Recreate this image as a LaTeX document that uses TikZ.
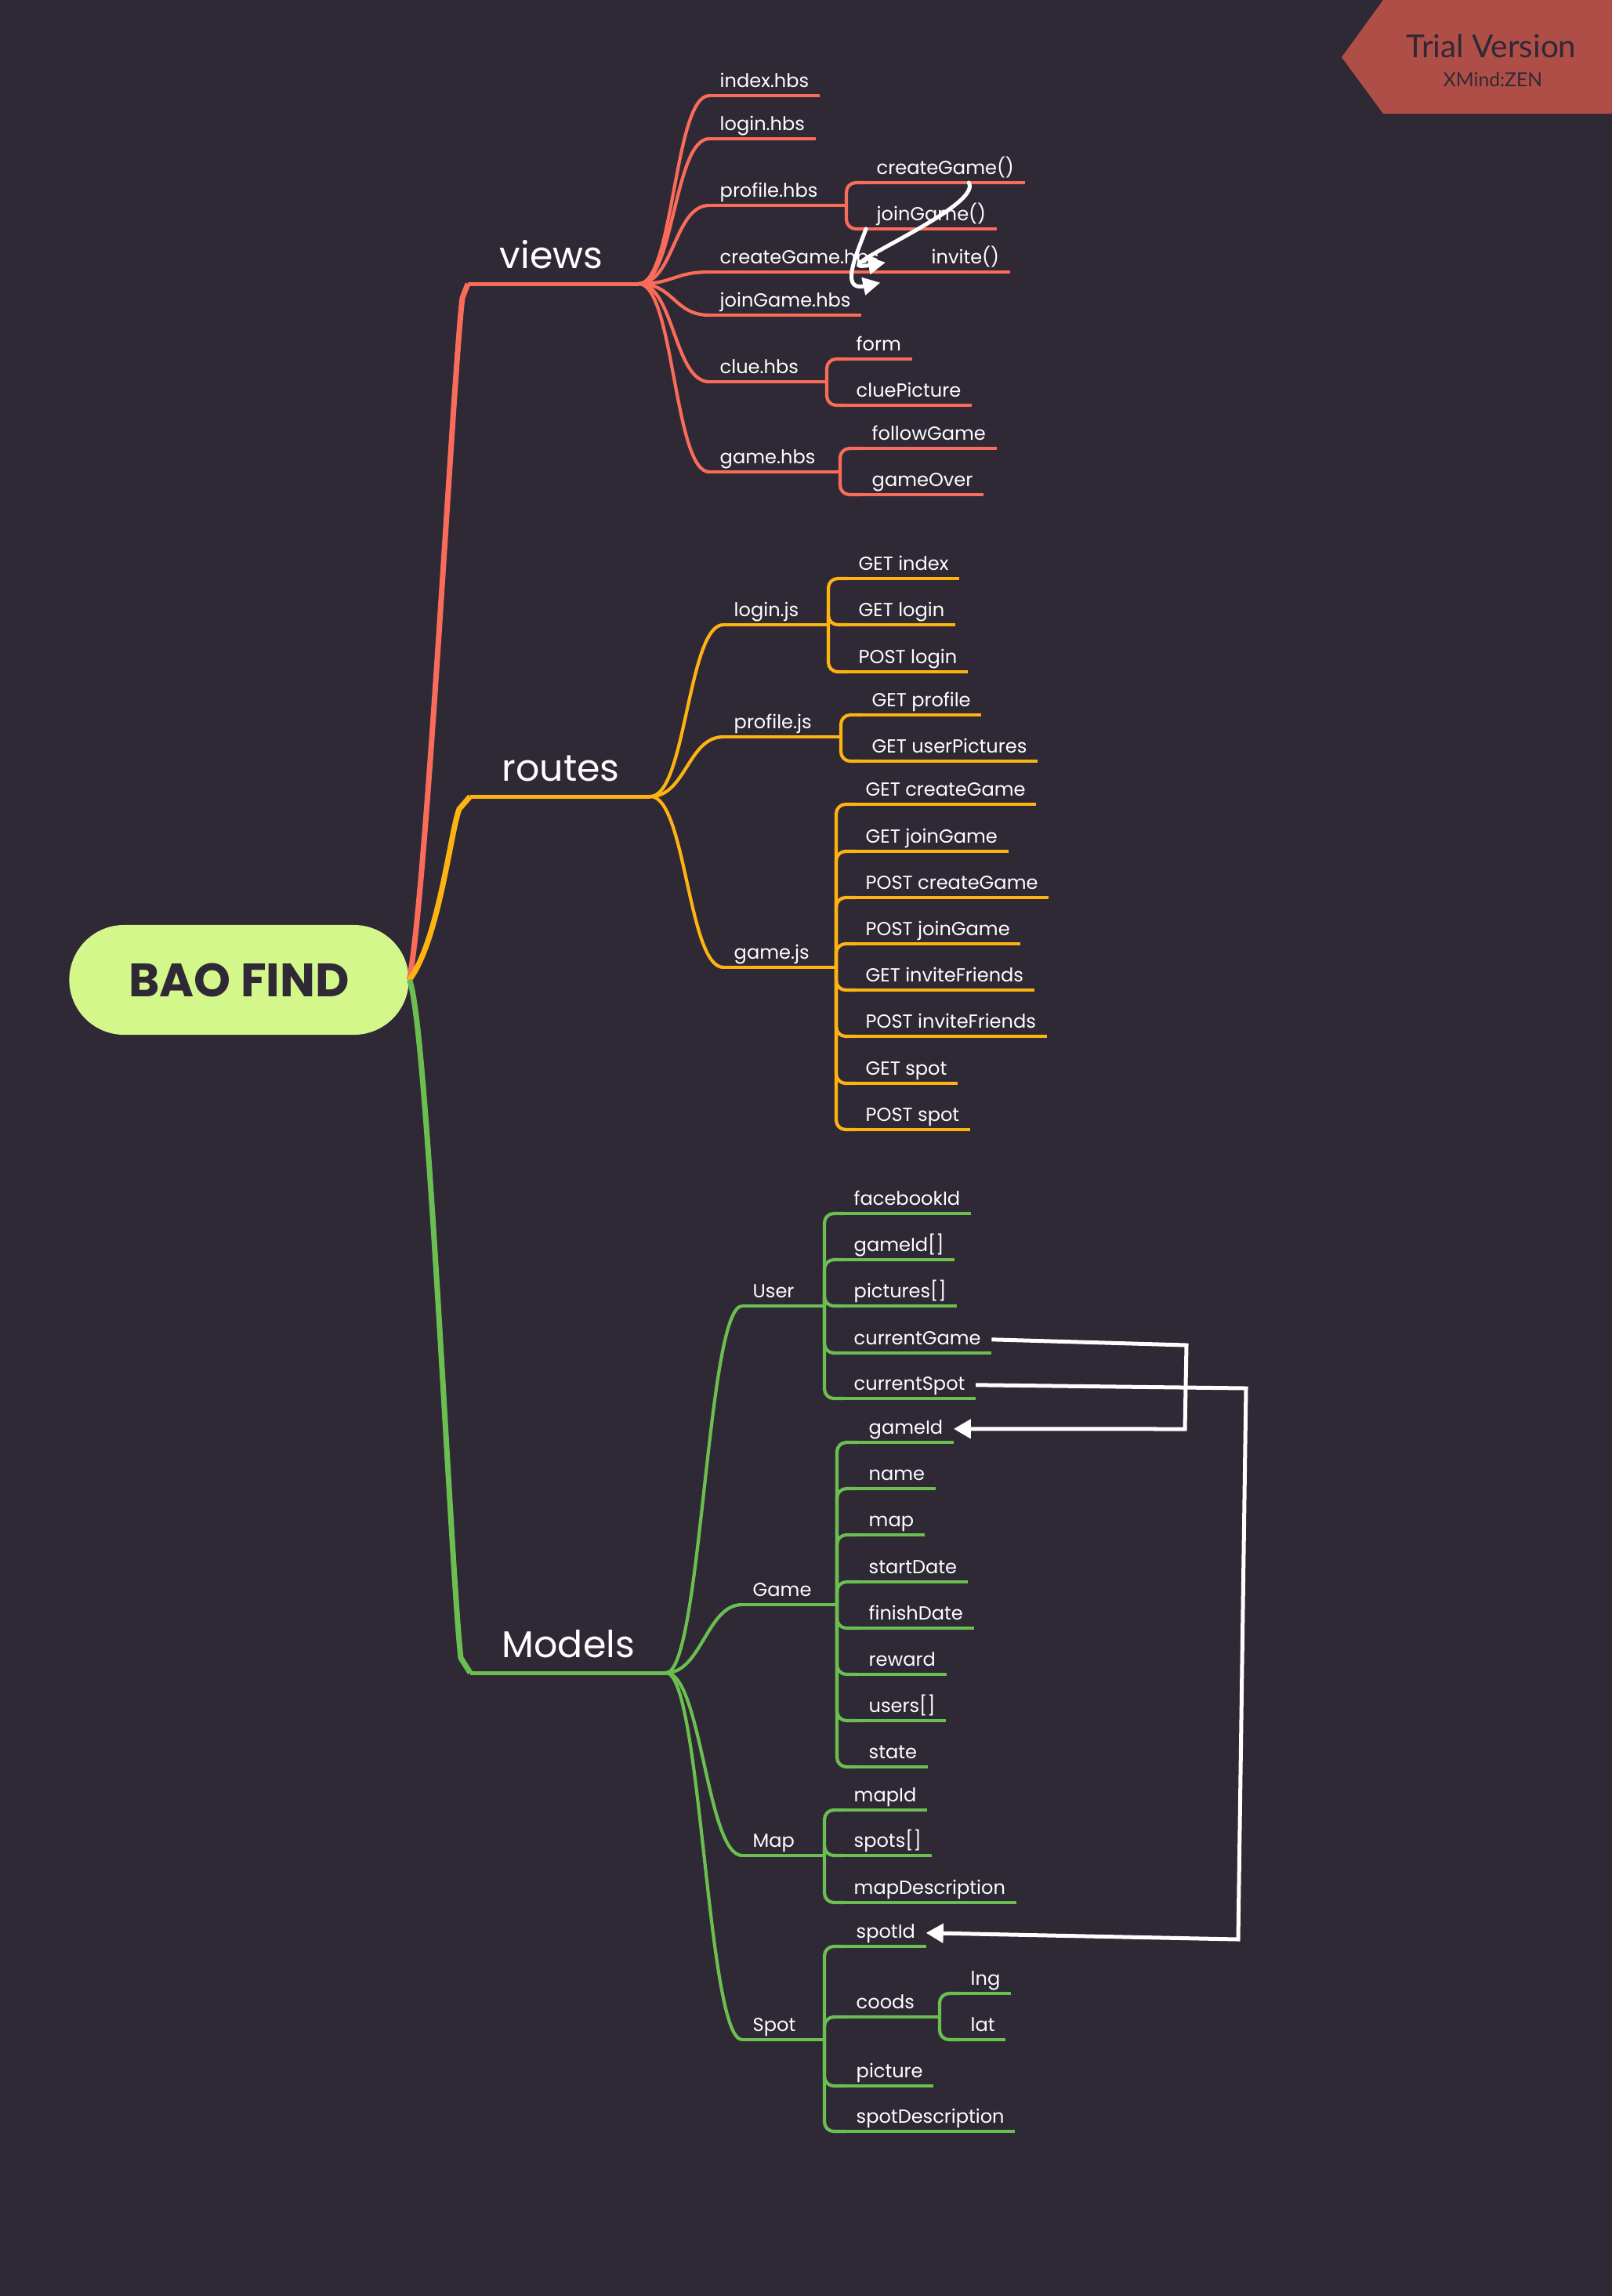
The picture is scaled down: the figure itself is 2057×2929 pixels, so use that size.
\documentclass[tikz,border=0pt]{standalone}
\usepackage{fontspec}
\setmainfont{Poppins}
\newfontfamily\trialfont{Lato}
\usetikzlibrary{arrows.meta}

\definecolor{bgdark}{HTML}{2F2935}
\definecolor{viewc}{HTML}{FA6C5A}
\definecolor{routec}{HTML}{FDB311}
\definecolor{modelc}{HTML}{6BBF51}
\definecolor{rootc}{HTML}{D4F78B}
\definecolor{trialc}{HTML}{AE4E46}

\begin{document}
\begin{tikzpicture}[
  x=0.01cm, y=-0.01cm,
  root/.style={fill=rootc, rounded corners=0.7cm, minimum width=4.33cm,
               minimum height=1.4cm, text=bgdark,
               font=\fontsize{17}{20}\selectfont\bfseries},
  topic/.style={anchor=south west, text=white, inner xsep=0.4cm, inner ysep=0.09cm,
                text height=0.35cm, text depth=0.1cm, font=\fontsize{13.5}{16}\selectfont},
  leaf/.style={anchor=south west, text=white, inner xsep=0.13cm, inner ysep=0.05cm,
               text height=0.18cm, text depth=0.05cm, font=\fontsize{6.85}{8.2}\selectfont},
  trunk/.style={line width=0.07cm},
  tline/.style={line width=0.05cm},
  uline/.style={line width=0.042cm},
  fork/.style={line width=0.042cm, rounded corners=0.12cm},
  rel/.style={draw=white, line width=0.05cm, -{Triangle[length=0.22cm,width=0.24cm]}},
  relc/.style={draw=white, line width=0.05cm, line cap=round,
               -{Triangle[length=0.22cm,width=0.22cm]}}
]
\fill[bgdark] (0,0) rectangle (2057,2929);
\useasboundingbox (0,0) rectangle (2057,2929);

% watermark
\fill[trialc] (1712,73) -- (1765,0) -- (2057,0) -- (2057,145) -- (1765,145) -- cycle;
\node[anchor=base, text=bgdark, font=\trialfont\fontsize{11.5}{13}\selectfont] (trial) at (1903,73) {Trial Version};
\node[anchor=base, text=bgdark, font=\trialfont\fontsize{7}{8}\selectfont] (zen) at (1905,110) {XMind:ZEN};

\node[root] (root) at (305,1250) {BAO FIND};

% views
\node[topic] (views) at (597,362) {views};
\coordinate (views-j) at (815,362);
\node[leaf] (idx) at (905,122) {index.hbs};
\node[leaf] (lgh) at (905,177) {login.hbs};
\node[leaf] (prf) at (905,262) {profile.hbs};
\node[leaf] (cgh) at (905,347) {createGame.hbs};
\node[leaf] (jgh) at (905,402) {joinGame.hbs};
\node[leaf] (clu) at (905,487) {clue.hbs};
\node[leaf] (gmh) at (905,602) {game.hbs};
\coordinate (prf-j) at (1080,262);
\coordinate (clu-j) at (1055,487);
\coordinate (gmh-j) at (1072,602);
\node[leaf] (cgf) at (1105,233) {createGame()};
\node[leaf] (jgf) at (1105,292) {joinGame()};
\node[leaf] (inv) at (1175,347) {invite()};
\node[leaf] (frm) at (1079,458) {form};
\node[leaf] (clp) at (1079,517) {cluePicture};
\node[leaf] (flg) at (1099,572) {followGame};
\node[leaf] (gov) at (1099,631) {gameOver};

\draw[trunk,viewc] (root.east) .. controls (545,1130) and (578,480) .. (590,380) -- (views.south west);
\draw[tline,viewc] (views.south west) -- (views-j);
\foreach \n in {idx,lgh,prf,cgh,jgh,clu,gmh}
  \draw[uline,viewc] (views-j) .. controls +(45,0) and +(-45,0) .. (\n.south west);
\foreach \n in {idx,lgh,prf,cgh,jgh,clu,gmh,cgf,jgf,inv,frm,clp,flg,gov}
  \draw[uline,viewc] (\n.south west) -- (\n.south east);
\draw[uline,viewc] (prf.south east) -- (prf-j);
\draw[uline,viewc] (clu.south east) -- (clu-j);
\draw[uline,viewc] (gmh.south east) -- (gmh-j);
\draw[uline,viewc] (cgh.south east) -- (inv.south west);
\foreach \n in {cgf,jgf} \draw[fork,viewc] (prf-j) |- (\n.south west);
\foreach \n in {frm,clp} \draw[fork,viewc] (clu-j) |- (\n.south west);
\foreach \n in {flg,gov} \draw[fork,viewc] (gmh-j) |- (\n.south west);

% routes
\node[topic] (routes) at (600,1016) {routes};
\coordinate (routes-j) at (830,1016);
\node[leaf] (lgjs) at (923,797) {login.js};
\node[leaf] (pfjs) at (923,940) {profile.js};
\node[leaf] (gmjs) at (923,1234) {game.js};
\coordinate (lgjs-j) at (1057,797);
\coordinate (pfjs-j) at (1073,940);
\coordinate (gmjs-j) at (1067,1234);
\node[leaf] (gix) at (1082,738) {GET index};
\node[leaf] (glg) at (1082,797) {GET login};
\node[leaf] (plg) at (1082,857) {POST login};
\node[leaf] (gpf) at (1099,912) {GET profile};
\node[leaf] (gup) at (1099,971) {GET userPictures};
\node[leaf] (gcg) at (1091,1026) {GET createGame};
\node[leaf] (gjg) at (1091,1086) {GET joinGame};
\node[leaf] (pcg) at (1091,1145) {POST createGame};
\node[leaf] (pjg) at (1091,1204) {POST joinGame};
\node[leaf] (gif) at (1091,1263) {GET inviteFriends};
\node[leaf] (pif) at (1091,1322) {POST inviteFriends};
\node[leaf] (gsp) at (1091,1382) {GET spot};
\node[leaf] (psp) at (1091,1441) {POST spot};

\draw[trunk,routec] (root.east) .. controls (560,1200) and (575,1060) .. (586,1032) -- (routes.south west);
\draw[tline,routec] (routes.south west) -- (routes-j);
\foreach \n in {lgjs,pfjs,gmjs}
  \draw[uline,routec] (routes-j) .. controls +(45,0) and +(-45,0) .. (\n.south west);
\foreach \n in {lgjs,pfjs,gmjs,gix,glg,plg,gpf,gup,gcg,gjg,pcg,pjg,gif,pif,gsp,psp}
  \draw[uline,routec] (\n.south west) -- (\n.south east);
\draw[uline,routec] (lgjs.south east) -- (lgjs-j);
\draw[uline,routec] (pfjs.south east) -- (pfjs-j);
\draw[uline,routec] (gmjs.south east) -- (gmjs-j);
\foreach \n in {gix,glg,plg} \draw[fork,routec] (lgjs-j) |- (\n.south west);
\foreach \n in {gpf,gup} \draw[fork,routec] (pfjs-j) |- (\n.south west);
\foreach \n in {gcg,gjg,pcg,pjg,gif,pif,gsp,psp} \draw[fork,routec] (gmjs-j) |- (\n.south west);

% Models
\node[topic] (models) at (600,2134) {Models};
\coordinate (models-j) at (850,2134);
\node[leaf] (usr) at (947,1666) {User};
\node[leaf] (gam) at (947,2047) {Game};
\node[leaf] (mapm) at (947,2367) {Map};
\node[leaf] (spt) at (947,2602) {Spot};
\coordinate (usr-j) at (1052,1666);
\coordinate (gam-j) at (1068,2047);
\coordinate (mapm-j) at (1052,2367);
\coordinate (spt-j) at (1052,2602);
\node[leaf] (fbid) at (1076,1548) {facebookId};
\node[leaf] (ugid) at (1076,1607) {gameId[]};
\node[leaf] (upic) at (1076,1666) {pictures[]};
\node[leaf] (ucg) at (1076,1726) {currentGame};
\node[leaf] (ucs) at (1076,1784) {currentSpot};
\node[leaf] (ggi) at (1095,1840) {gameId};
\node[leaf] (gnm) at (1095,1899) {name};
\node[leaf] (gmp) at (1095,1958) {map};
\node[leaf] (gsd) at (1095,2018) {startDate};
\node[leaf] (gfd) at (1095,2077) {finishDate};
\node[leaf] (grw) at (1095,2136) {reward};
\node[leaf] (gus) at (1095,2195) {users[]};
\node[leaf] (gst) at (1095,2254) {state};
\node[leaf] (mid) at (1076,2309) {mapId};
\node[leaf] (msp) at (1076,2367) {spots[]};
\node[leaf] (mds) at (1076,2427) {mapDescription};
\node[leaf] (sid) at (1079,2483) {spotId};
\node[leaf] (scd) at (1079,2573) {coods};
\node[leaf] (spc) at (1079,2661) {picture};
\node[leaf] (sds) at (1079,2719) {spotDescription};
\coordinate (scd-j) at (1199,2573);
\node[leaf] (slg) at (1225,2543) {lng};
\node[leaf] (slt) at (1225,2602) {lat};

\draw[trunk,modelc] (root.east) .. controls (545,1300) and (575,2000) .. (588,2115) -- (models.south west);
\draw[tline,modelc] (models.south west) -- (models-j);
\foreach \n in {usr,gam,mapm,spt}
  \draw[uline,modelc] (models-j) .. controls +(45,0) and +(-45,0) .. (\n.south west);
\foreach \n in {usr,gam,mapm,spt,fbid,ugid,upic,ucg,ucs,ggi,gnm,gmp,gsd,gfd,grw,gus,gst,mid,msp,mds,sid,scd,spc,sds,slg,slt}
  \draw[uline,modelc] (\n.south west) -- (\n.south east);
\draw[uline,modelc] (usr.south east) -- (usr-j);
\draw[uline,modelc] (gam.south east) -- (gam-j);
\draw[uline,modelc] (mapm.south east) -- (mapm-j);
\draw[uline,modelc] (spt.south east) -- (spt-j);
\draw[uline,modelc] (scd.south east) -- (scd-j);
\foreach \n in {fbid,ugid,upic,ucg,ucs} \draw[fork,modelc] (usr-j) |- (\n.south west);
\foreach \n in {ggi,gnm,gmp,gsd,gfd,grw,gus,gst} \draw[fork,modelc] (gam-j) |- (\n.south west);
\foreach \n in {mid,msp,mds} \draw[fork,modelc] (mapm-j) |- (\n.south west);
\foreach \n in {sid,scd,spc,sds} \draw[fork,modelc] (spt-j) |- (\n.south west);
\foreach \n in {slg,slt} \draw[fork,modelc] (scd-j) |- (\n.south west);

% relationships
\draw[relc] ([xshift=0.3cm]cgf.south) .. controls (1255,265) and (1040,350) .. ([xshift=-0.05cm,yshift=-0.05cm]cgh.east);
\draw[relc] (jgf.south west) .. controls (1095,320) and (1070,372) .. ([xshift=0.24cm,yshift=0.07cm]jgh.north east);
\draw[rel] (ucg.east) -- (1514,1716) -- (1512,1823) -- (ggi.east);
\draw[rel] (ucs.east) -- (1590,1771) -- (1580,2474) -- (sid.east);
\end{tikzpicture}
\end{document}
